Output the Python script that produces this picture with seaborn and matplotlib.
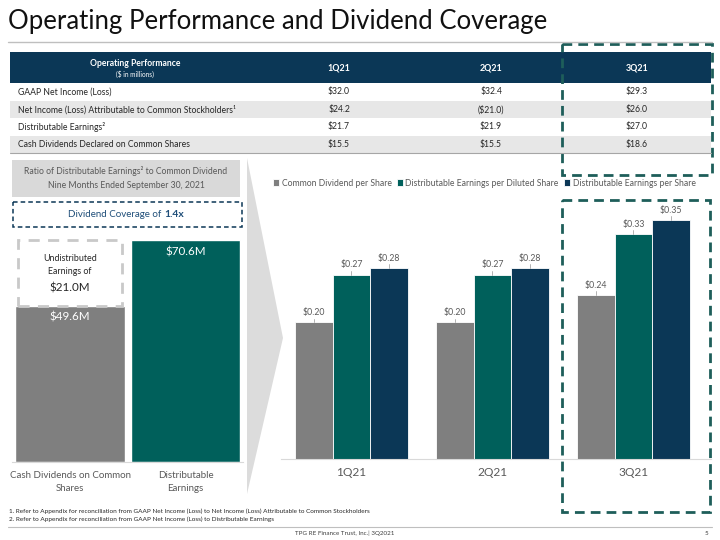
import pandas as pd
import seaborn as sns
import matplotlib.pyplot as plt
from matplotlib.patches import Rectangle, Polygon

# Per-share data (right chart)
quarters = ["1Q21", "2Q21", "3Q21"]
dividend_per_share = [0.20, 0.20, 0.24]
de_per_diluted_share = [0.27, 0.27, 0.33]
de_per_share = [0.28, 0.28, 0.35]
series_names = [
    "Common Dividend per Share",
    "Distributable Earnings per Diluted Share",
    "Distributable Earnings per Share",
]

# Operating performance table ($ in millions)
row_labels = [
    "GAAP Net Income (Loss)",
    "Net Income (Loss) Attributable to Common Stockholders\u00b9",
    "Distributable Earnings\u00b2",
    "Cash Dividends Declared on Common Shares",
]
q1_values = ["$32.0", "$24.2", "$21.7", "$15.5"]
q2_values = ["$32.4", "($21.0)", "$21.9", "$15.5"]
q3_values = ["$29.3", "$26.0", "$27.0", "$18.6"]

# Nine-month coverage (left chart)
coverage_labels = ["Cash Dividends on Common\nShares", "Distributable\nEarnings"]
coverage_values = [49.6, 70.6]
undistributed = 21.0
coverage_ratio = "1.4x"

GRAY = "#7f7f7f"
TEAL = "#00605b"
NAVY = "#0b3756"
DASH_TEAL = "#1e5e5a"
TXT = "#595959"

sns.set_style("white")
plt.rcParams["font.family"] = ["Lato", "DejaVu Sans"]

W, H = 720, 540
fig = plt.figure(figsize=(7.2, 5.4), dpi=100)


def px_axes(x0, y0, x1, y1):
    return fig.add_axes([x0 / W, 1 - y1 / H, (x1 - x0) / W, (y1 - y0) / H])


# ---- right chart: per share bars ----
df = pd.DataFrame({
    "quarter": quarters * 3,
    "value": dividend_per_share + de_per_diluted_share + de_per_share,
    "series": [s for s in series_names for _ in quarters],
})
ax = px_axes(281, 186, 711, 458.5)
sns.barplot(data=df, x="quarter", y="value", hue="series",
            palette=[GRAY, TEAL, NAVY], width=0.8, edgecolor="white",
            linewidth=0.6, saturation=1, ax=ax)
ax.set_xlim(-0.5, 2.55)
ax.set_ylim(0, 0.40)
for cont in ax.containers:
    for bar in cont:
        cx = bar.get_x() + bar.get_width() / 2
        h = bar.get_height()
        ax.plot([cx, cx], [h, h + 0.0055], color="#a6a6a6", lw=0.6)
        ax.text(cx, h + 0.0075, f"${h:.2f}", ha="center", va="bottom",
                fontsize=6.3, color=TXT)
ax.set_xlabel("")
ax.set_ylabel("")
ax.set_yticks([])
for s in ["top", "right", "left"]:
    ax.spines[s].set_visible(False)
ax.spines["bottom"].set_color("#d9d9d9")
ax.tick_params(axis="x", length=0, pad=6, labelsize=8.6, labelcolor=TXT)
handles, labels = ax.get_legend_handles_labels()
ax.legend(handles, labels, loc="center left", ncol=3, frameon=False,
          bbox_to_anchor=(273 / W, 1 - 183 / H), bbox_transform=fig.transFigure,
          fontsize=6.2, labelcolor=TXT, handlelength=0.7, handleheight=0.7,
          handletextpad=0.3, columnspacing=0.6, borderaxespad=0, borderpad=0)

# ---- left chart: coverage bars ----
axl = px_axes(12.25, 230, 243.25, 461.5)
sns.barplot(x=coverage_labels, y=coverage_values, hue=coverage_labels,
            palette=[GRAY, TEAL], width=0.95, legend=False, saturation=1,
            ax=axl)
axl.set_xlim(-0.5, 1.5)
axl.set_ylim(0, 73.9)
axl.bar(0, undistributed, bottom=coverage_values[0], width=0.9, fill=False,
        edgecolor="#c9c9c9", lw=2, ls=(0, (4, 3)))
axl.text(0, coverage_values[0] - 3.5, f"${coverage_values[0]:.1f}M",
         ha="center", va="center", color="white", fontsize=8.4)
axl.text(1, coverage_values[1] - 3.7, f"${coverage_values[1]:.1f}M",
         ha="center", va="center", color="white", fontsize=8.4)
axl.text(0, coverage_values[0] + undistributed * 0.46, "Undistributed\nEarnings of",
         ha="center", va="bottom", color="#262626", fontsize=6.4, linespacing=1.6)
axl.text(0, coverage_values[0] + undistributed * 0.28, f"${undistributed:.1f}M",
         ha="center", va="center", color="#262626", fontsize=8.4)
axl.set_yticks([])
axl.set_ylabel("")
for s in ["top", "right", "left"]:
    axl.spines[s].set_visible(False)
axl.spines["bottom"].set_color("#d9d9d9")
axl.tick_params(axis="x", length=0, pad=7, labelsize=7.0, labelcolor=TXT)
for t in axl.get_xticklabels():
    t.set_linespacing(1.5)

# ---- canvas for slide furniture ----
cv = fig.add_axes([0, 0, 1, 1], facecolor="none")
cv.set_xlim(0, W)
cv.set_ylim(H, 0)
cv.axis("off")

cv.text(8, 22, "Operating Performance and Dividend Coverage", ha="left",
        va="center", fontsize=18.5, color="#111111")
cv.plot([8, 712], [42, 42], color="#bfbfbf", lw=1)

# table
cv.add_patch(Rectangle((10, 52), 701, 31, color=NAVY, lw=0))
cv.text(135, 63, "Operating Performance", ha="center", va="center",
        fontsize=6.2, color="white", fontweight="bold")
cv.text(135, 74, "($ in millions)", ha="center", va="center",
        fontsize=4.7, color="white")
col_x = [339, 491, 637]
for cx, q in zip(col_x, quarters):
    cv.text(cx, 68, q, ha="center", va="center", fontsize=6.4,
            color="white", fontweight="bold")
row_h = 17.6
for i, lab in enumerate(row_labels):
    y0 = 83 + i * row_h
    if i % 2 == 1:
        cv.add_patch(Rectangle((10, y0), 701, row_h, color="#e7e7e7", lw=0))
    yc = y0 + row_h / 2
    cv.text(18, yc, lab, ha="left", va="center", fontsize=6.2, color="#262626")
    for cx, vals in zip(col_x, [q1_values, q2_values, q3_values]):
        cv.text(cx, yc, vals[i], ha="center", va="center", fontsize=6.2,
                color="#262626")
cv.plot([10, 711], [83 + 4 * row_h, 83 + 4 * row_h], color="#a6a6a6", lw=0.8)

# highlight boxes
cv.add_patch(Rectangle((562, 44), 150, 131, fill=False, ec=DASH_TEAL, lw=2,
                       ls=(0, (3.5, 2.2))))
cv.add_patch(Rectangle((562, 200), 148, 312, fill=False, ec=DASH_TEAL, lw=2,
                       ls=(0, (3.5, 2.2))))

# left panel header
cv.add_patch(Rectangle((12, 160), 228, 37, color="#d9d9d9", lw=0))
cv.text(126, 171, "Ratio of Distributable Earnings\u00b2 to Common Dividend",
        ha="center", va="center", fontsize=6.2, color=TXT)
cv.text(126, 186, "Nine Months Ended September 30, 2021", ha="center",
        va="center", fontsize=6.2, color=TXT)
cv.add_patch(Rectangle((13, 202), 229, 25, fill=False, ec=NAVY, lw=1.1,
                       ls=(0, (3, 2))))
cv.text(161, 214.5, "Dividend Coverage of", ha="right", va="center",
        fontsize=7.0, color="#1f4e79")
cv.text(164, 214.5, coverage_ratio, ha="left", va="center", fontsize=7.4,
        color="#1f4e79", fontweight="bold")

# wedge
cv.add_patch(Polygon([(247, 158), (283, 338), (247, 494)], closed=True,
                     color="#dcdcdc", lw=0))

# footnotes and footer
cv.text(9, 511, "1. Refer to Appendix for reconciliation from GAAP Net Income (Loss) "
        "to Net Income (Loss) Attributable to Common Stockholders",
        ha="left", va="center", fontsize=4.6, color="#262626")
cv.text(9, 519.5, "2. Refer to Appendix for reconciliation from GAAP Net Income (Loss) "
        "to Distributable Earnings",
        ha="left", va="center", fontsize=4.6, color="#262626")
cv.plot([8, 712], [527, 527], color="#bfbfbf", lw=0.8)
cv.text(345, 533.5, "TPG RE Finance Trust, Inc.| 3Q2021", ha="center",
        va="center", fontsize=4.5, color="#404040")
cv.text(706, 533.5, "5", ha="center", va="center", fontsize=4.5, color="#404040")

fig.savefig("out.png", dpi=100)
